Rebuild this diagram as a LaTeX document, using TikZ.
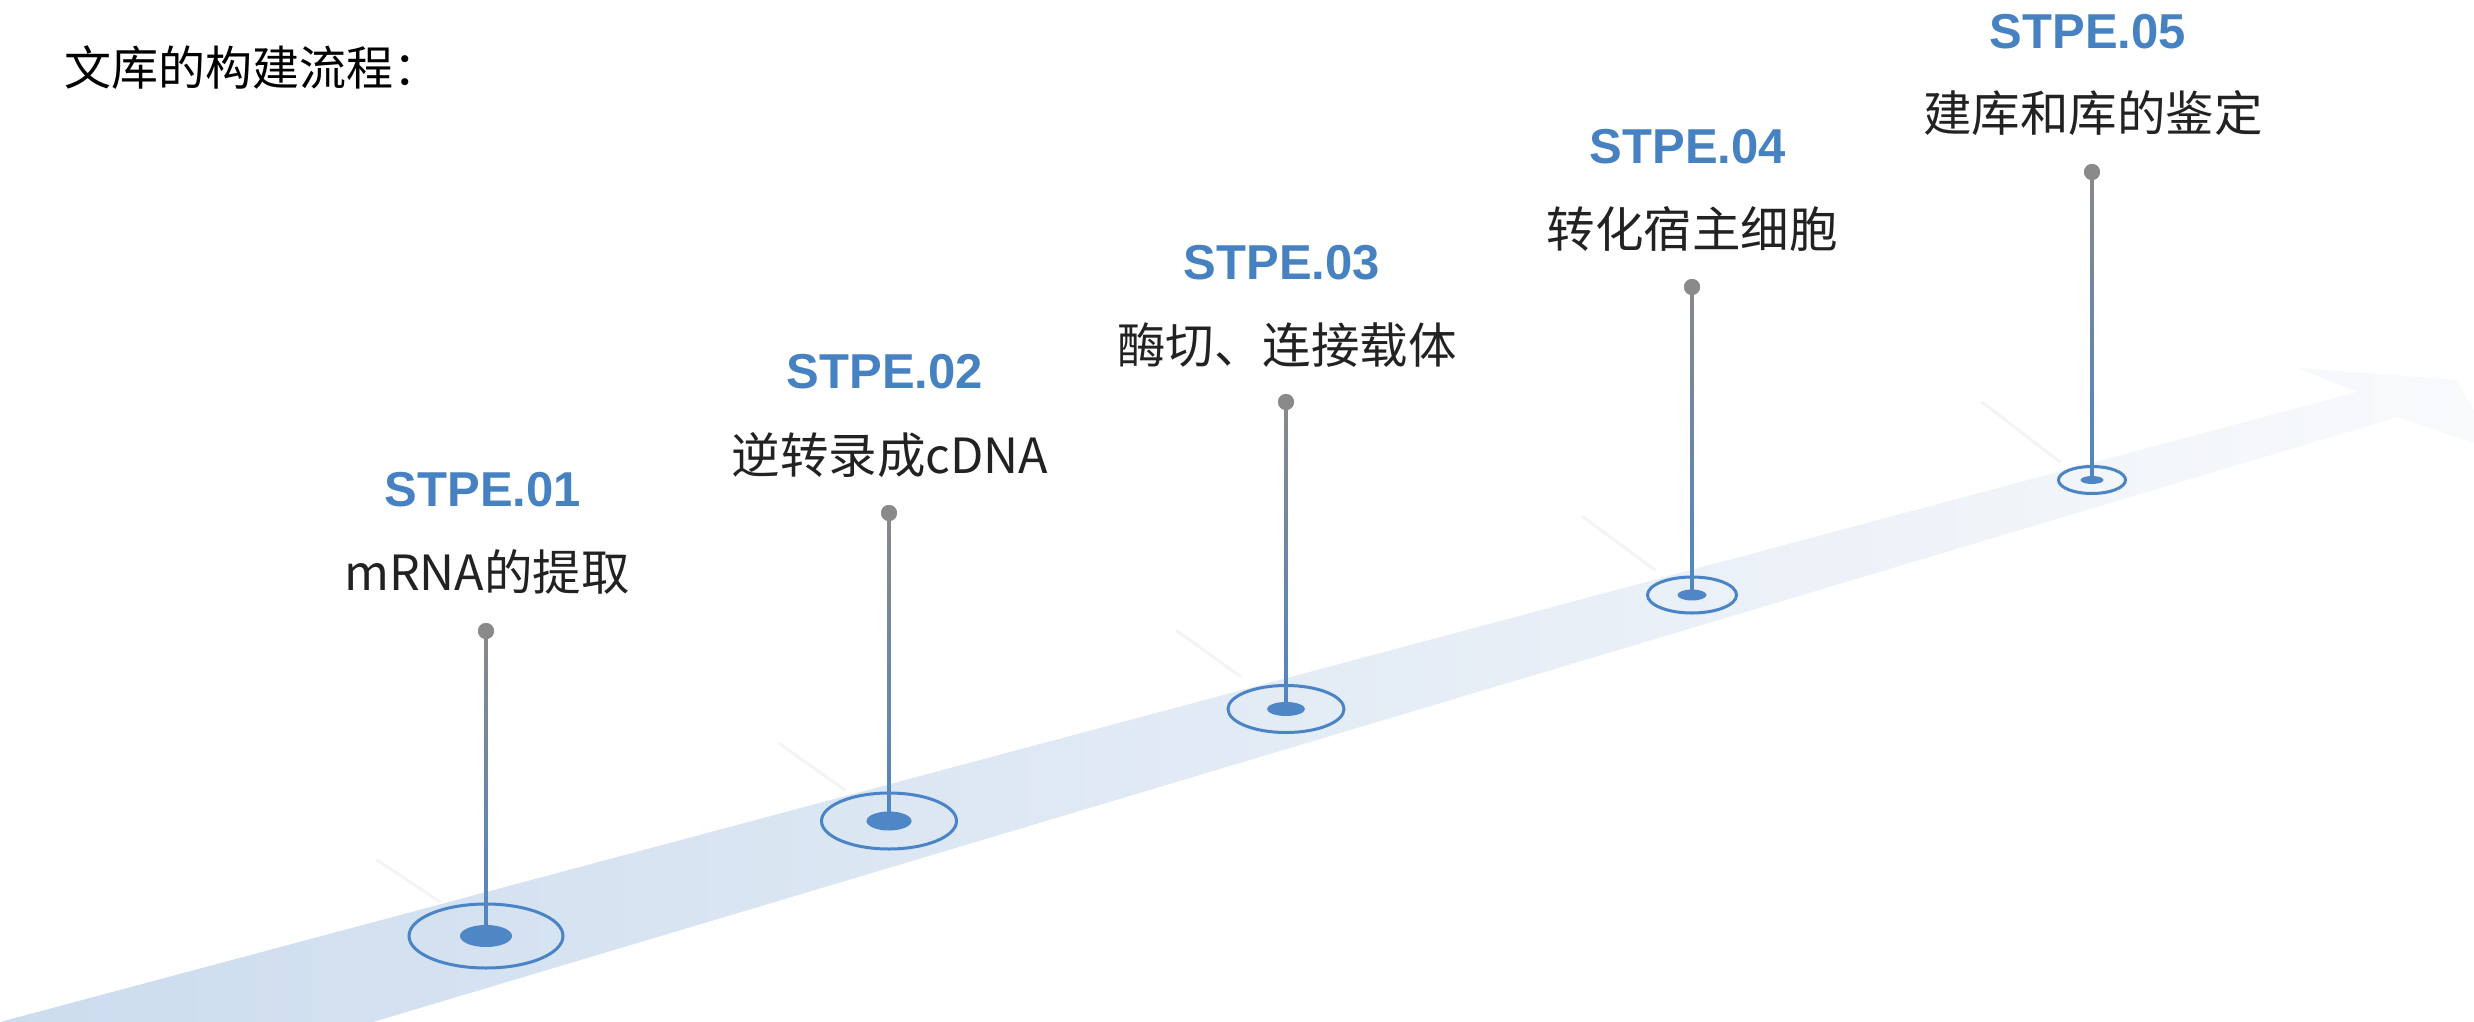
\documentclass[tikz,border=0pt]{standalone}
\usepackage{fontspec}
\setmainfont{Liberation Sans}
\newfontfamily\cjk{Noto Sans CJK SC}
\usetikzlibrary{shapes.geometric}
\definecolor{stpeblue}{HTML}{4682C2}
\definecolor{ringblue}{HTML}{4A84C6}
\definecolor{coreblue}{HTML}{4F86C6}
\definecolor{dotgray}{HTML}{8A8A8A}
\definecolor{linegray}{HTML}{888888}
\definecolor{lineblue}{HTML}{5086C4}
\definecolor{txt}{HTML}{222222}
\definecolor{bandL}{HTML}{CCDCEE}
\definecolor{bandM}{HTML}{E7EDF7}
\definecolor{bandR}{HTML}{F9FAFC}
\definecolor{streak}{HTML}{F4F4F4}
\begin{document}
\begin{tikzpicture}[x=1pt,y=-1pt,
  steplabel/.style={font=\fontsize{49}{49}\selectfont\bfseries, text=stpeblue, inner sep=0pt, anchor=center},
  steptext/.style={font=\cjk\fontsize{48.5}{48.5}\selectfont, text=txt, inner sep=0pt, anchor=center},
  pindot/.style={circle, fill=dotgray, minimum size=16pt, inner sep=0pt},
  ring/.style={ellipse, draw=ringblue, line width=3pt, inner sep=0pt},
  core/.style={ellipse, fill=coreblue, inner sep=0pt},
  streakline/.style={streak, line width=3pt, line cap=round}]
\useasboundingbox (0,0) rectangle (2474,1022);
\fill[white] (0,0) rectangle (2474,1022);
\begin{scope}
\clip (0,0) rectangle (2474,1022);
\shade[left color=bandL, middle color=bandM, right color=bandR]
  (0,1022) -- (2357,392) -- (2298,368) -- (2457,380) -- (2497,451) -- (2398,417) -- (373,1022) -- cycle;
\end{scope}

% title
\node[font=\cjk\fontsize{47}{47}\selectfont, text=black, inner sep=0pt, anchor=west] (title) at (64,68) {文库的构建流程：};

% streaks
\coordinate (s1a) at (377,860); \coordinate (s1b) at (440,902);
\coordinate (s2a) at (780,744); \coordinate (s2b) at (845,790);
\coordinate (s3a) at (1177,631); \coordinate (s3b) at (1240,676);
\coordinate (s4a) at (1583,517); \coordinate (s4b) at (1655,570);
\coordinate (s5a) at (1982,402); \coordinate (s5b) at (2060,462);
\foreach \i in {1,...,5}{\draw[streakline] (s\i a) -- (s\i b);}

% rings and cores
\node[ring, minimum width=154pt, minimum height=64pt] (r1) at (486,936) {};
\node[ring, minimum width=135pt, minimum height=56pt] (r2) at (889,821) {};
\node[ring, minimum width=116pt, minimum height=47pt] (r3) at (1286,709) {};
\node[ring, minimum width=89pt, minimum height=36pt] (r4) at (1692,595) {};
\node[ring, minimum width=67pt, minimum height=27pt] (r5) at (2092,480) {};
\node[core, minimum width=52pt, minimum height=22pt] (k1) at (486,936) {};
\node[core, minimum width=45pt, minimum height=19pt] (k2) at (889,821) {};
\node[core, minimum width=38pt, minimum height=14pt] (k3) at (1286,709) {};
\node[core, minimum width=29pt, minimum height=11pt] (k4) at (1692,595) {};
\node[core, minimum width=23pt, minimum height=8pt] (k5) at (2092,480) {};

% pin heads
\node[pindot] (d1) at (486,631) {};
\node[pindot] (d2) at (889,513) {};
\node[pindot] (d3) at (1286,402) {};
\node[pindot] (d4) at (1692,287) {};
\node[pindot] (d5) at (2092,172) {};

% pin stems
\foreach \i in {1,...,5}{
  \shade[top color=linegray, bottom color=lineblue]
    ([xshift=-1.5pt]d\i.center) rectangle ([xshift=1.5pt]k\i.center);
  \node[pindot] at (d\i) {};
}

% labels
\node[steplabel] (l1) at (483,490) {STPE.01};
\node[steptext]  (t1) at (487,572) {mRNA的提取};
\node[steplabel] (l2) at (885,372) {STPE.02};
\node[steptext]  (t2) at (890,455) {逆转录成cDNA};
\node[steplabel] (l3) at (1282,263) {STPE.03};
\node[steptext]  (t3) at (1287,345) {酶切、连接载体};
\node[steplabel] (l4) at (1688,147) {STPE.04};
\node[steptext]  (t4) at (1692,229) {转化宿主细胞};
\node[steplabel] (l5) at (2088,32) {STPE.05};
\node[steptext]  (t5) at (2093,113) {建库和库的鉴定};
\end{tikzpicture}
\end{document}
